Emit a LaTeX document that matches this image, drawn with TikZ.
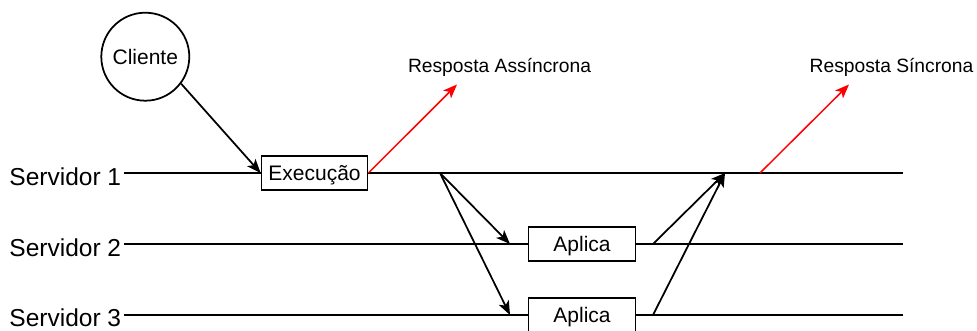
\documentclass[tikz,border=0pt]{standalone}
\usepackage{fontspec}
\setmainfont{Liberation Sans}
\usetikzlibrary{arrows.meta}
\begin{document}
\begin{tikzpicture}[x=1pt,y=-1pt,
  line width=1.75pt,
  tip/.style={-{Stealth[length=14pt,width=11pt,inset=3.5pt]}},
  flow/.style={tip,black},
  reply/.style={tip,red,line width=1.5pt},
  lane/.style={black},
  serverlabel/.style={font=\fontsize{24.5}{28}\selectfont,anchor=base east,inner sep=0pt},
  stepbox/.style={draw,rectangle,minimum width=106pt,minimum height=34.5pt,inner sep=0pt,
    font=\fontsize{21}{24}\selectfont,text height=15pt,text depth=0pt},
  client/.style={draw,circle,minimum size=88pt,inner sep=0pt,
    font=\fontsize{21}{24}\selectfont,text height=15pt,text depth=0pt},
  replylabel/.style={font=\fontsize{19.25}{22}\selectfont,anchor=base,inner sep=0pt}
]
\useasboundingbox (0,0) rectangle (977,330);
\clip (0,0) rectangle (977,330);

% client and server labels
\node[client] (cliente) at (145.3,56.7) {Cliente};
\node[serverlabel] (s1) at (122,185) {Servidor 1};
\node[serverlabel] (s2) at (122,256) {Servidor 2};
\node[serverlabel] (s3) at (122,326.5) {Servidor 3};

% processing boxes
\node[stepbox] (exec) at (314.5,173) {Execução};
\node[stepbox,minimum width=107pt] (ap2) at (582,244) {Aplica};
\node[stepbox,minimum width=107pt] (ap3) at (582,315) {Aplica};

% reply labels
\node[replylabel] (async) at (499.5,72) {Resposta Assíncrona};
\node[replylabel] (sync) at (891.5,72) {Resposta Síncrona};

% points along the server timelines
\coordinate (l1) at (124,173);
\coordinate (l2) at (124,244);
\coordinate (l3) at (124,315);
\coordinate (e1) at (903,173);
\coordinate (e2) at (903,244);
\coordinate (e3) at (903,315);
\coordinate (fork) at (440,173);
\coordinate (join) at (725,173);
\coordinate (syncstart) at (760,173);
\coordinate (in2) at (510,244);
\coordinate (in3) at (510,315);
\coordinate (out2) at (653,244);
\coordinate (out3) at (653,315);
\coordinate (asynctip) at (457,84.5);
\coordinate (synctip) at (849,84.5);

% timelines
\draw[lane] (l1) -- (exec.west);
\draw[lane] (exec.east) -- (e1);
\draw[lane] (l2) -- (ap2.west);
\draw[lane] (ap2.east) -- (e2);
\draw[lane] (l3) -- (ap3.west);
\draw[lane] (ap3.east) -- (e3);

% request and replication flow
\draw[flow] (cliente.-37) -- (exec.west);
\draw[flow] (fork) -- (in2);
\draw[flow] (fork) -- (in3);
\draw[flow] (out2) -- (join);
\draw[flow] (out3) -- (join);

% replies
\draw[reply] (exec.east) -- (asynctip);
\draw[reply] (syncstart) -- (synctip);
\end{tikzpicture}
\end{document}
